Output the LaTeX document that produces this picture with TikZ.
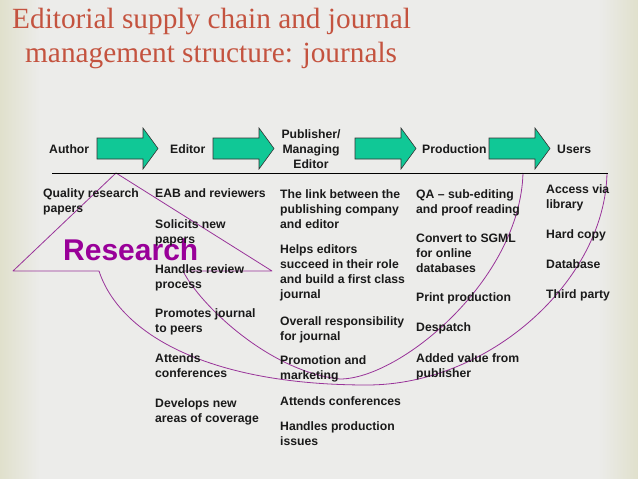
\documentclass[tikz,border=0pt]{standalone}
\usepackage{fontspec}
\newfontfamily\arialfont{Liberation Sans}
\newfontfamily\timesfont{Liberation Serif}
\definecolor{bggray}{HTML}{ECECEA}
\definecolor{bgbeige}{HTML}{E0E0CC}
\definecolor{titlered}{HTML}{C4533F}
\definecolor{arrowgreen}{HTML}{10C896}
\definecolor{curvepurple}{HTML}{993399}
\definecolor{researchpurple}{HTML}{990099}
\definecolor{bodyblack}{HTML}{1A1A1A}
\tikzset{
  txt/.style={font=\arialfont\bfseries\fontsize{12.2}{15.2}\selectfont, text=bodyblack, anchor=base west, align=left, inner sep=0pt},
  hdr/.style={txt},
  titletxt/.style={anchor=base west, inner sep=0pt, text=titlered, font=\timesfont\fontsize{29.3}{34}\selectfont},
  fatarrowstyle/.style={fill=arrowgreen, draw=black!80, line width=0.6pt, line join=miter},
  fatarrow/.pic={\draw[fatarrowstyle] (0,-10.5) -- (46,-10.5) -- (46,-20.5) -- (61,0) -- (46,20.5) -- (46,10.5) -- (0,10.5) -- cycle;},
  curveline/.style={draw=curvepurple, line width=0.8pt, line join=round}
}
\begin{document}
\begin{tikzpicture}[x=1pt,y=-1pt]
\useasboundingbox (0,0) rectangle (638,479);
% background
\fill[bggray] (0,0) rectangle (638,479);
\shade[left color=bgbeige, right color=bggray] (0,0) rectangle (40,479);
\shade[left color=bggray, right color=bgbeige] (598,0) rectangle (638,479);
% title
\node[titletxt] (title1) at (12,28) {Editorial supply chain and journal};
\node[titletxt] (title2) at (25,62) {management structure: journals};
% big curved arrow
\draw[curveline] (523,173) .. controls (520,280) and (400,379) .. (340,379)
  .. controls (270,372) and (200,305) .. (183,271)
  -- (272,271) -- (116,173) -- (13,271) -- (99,271)
  .. controls (120,335) and (210,385) .. (367,385)
  .. controls (490,385) and (605,280) .. (607,173);
\node[anchor=base west, inner sep=0pt, text=researchpurple, font=\arialfont\bfseries\fontsize{30}{36}\selectfont] (research) at (63,260) {Research};
% rule
\coordinate (ruleL) at (52,173);
\coordinate (ruleR) at (608,173);
\draw[line width=1pt, black] (ruleL) -- (ruleR);
% header (multi-line nodes: base = last line)
\node[hdr] (author) at (49,153) {Author};
\node[hdr] (editor) at (170,153) {Editor};
\node[hdr, anchor=base, align=center] (publisher) at (311,168.4) {Publisher/\\Managing\\Editor};
\node[hdr] (production) at (422,153) {Production};
\node[hdr] (users) at (557,153) {Users};
\pic at (97,148.5) {fatarrow};
\pic at (213,148.5) {fatarrow};
\pic at (355,148.5) {fatarrow};
\pic at (489,148.5) {fatarrow};
% column 1
\node[txt] (a1) at (43,212.2) {Quality research\\papers};
% column 2
\node[txt] (e1) at (155,197) {EAB and reviewers};
\node[txt] (e2) at (155,243.2) {Solicits new\\papers};
\node[txt] (e3) at (155,288.2) {Handles review\\process};
\node[txt] (e4) at (155,332.2) {Promotes journal\\to peers};
\node[txt] (e5) at (155,377.2) {Attends\\conferences};
\node[txt] (e6) at (155,422.2) {Develops new\\areas of coverage};
% column 3
\node[txt] (p1) at (280,228.4) {The link between the\\publishing company\\and editor};
\node[txt] (p2) at (280,298.6) {Helps editors\\succeed in their role\\and build a first class\\journal};
\node[txt] (p3) at (280,340.2) {Overall responsibility\\for journal};
\node[txt] (p4) at (280,379.2) {Promotion and\\marketing};
\node[txt] (p5) at (280,405) {Attends conferences};
\node[txt] (p6) at (280,445.2) {Handles production\\issues};
% column 4
\node[txt] (r1) at (416,213.2) {QA – sub-editing\\and proof reading};
\node[txt] (r2) at (416,272.4) {Convert to SGML\\for online\\databases};
\node[txt] (r3) at (416,301) {Print production};
\node[txt] (r4) at (416,331) {Despatch};
\node[txt] (r5) at (416,377.2) {Added value from\\publisher};
% column 5
\node[txt] (u1) at (546,208.2) {Access via\\library};
\node[txt] (u2) at (546,238) {Hard copy};
\node[txt] (u3) at (546,268) {Database};
\node[txt] (u4) at (546,298) {Third party};
\end{tikzpicture}
\end{document}
